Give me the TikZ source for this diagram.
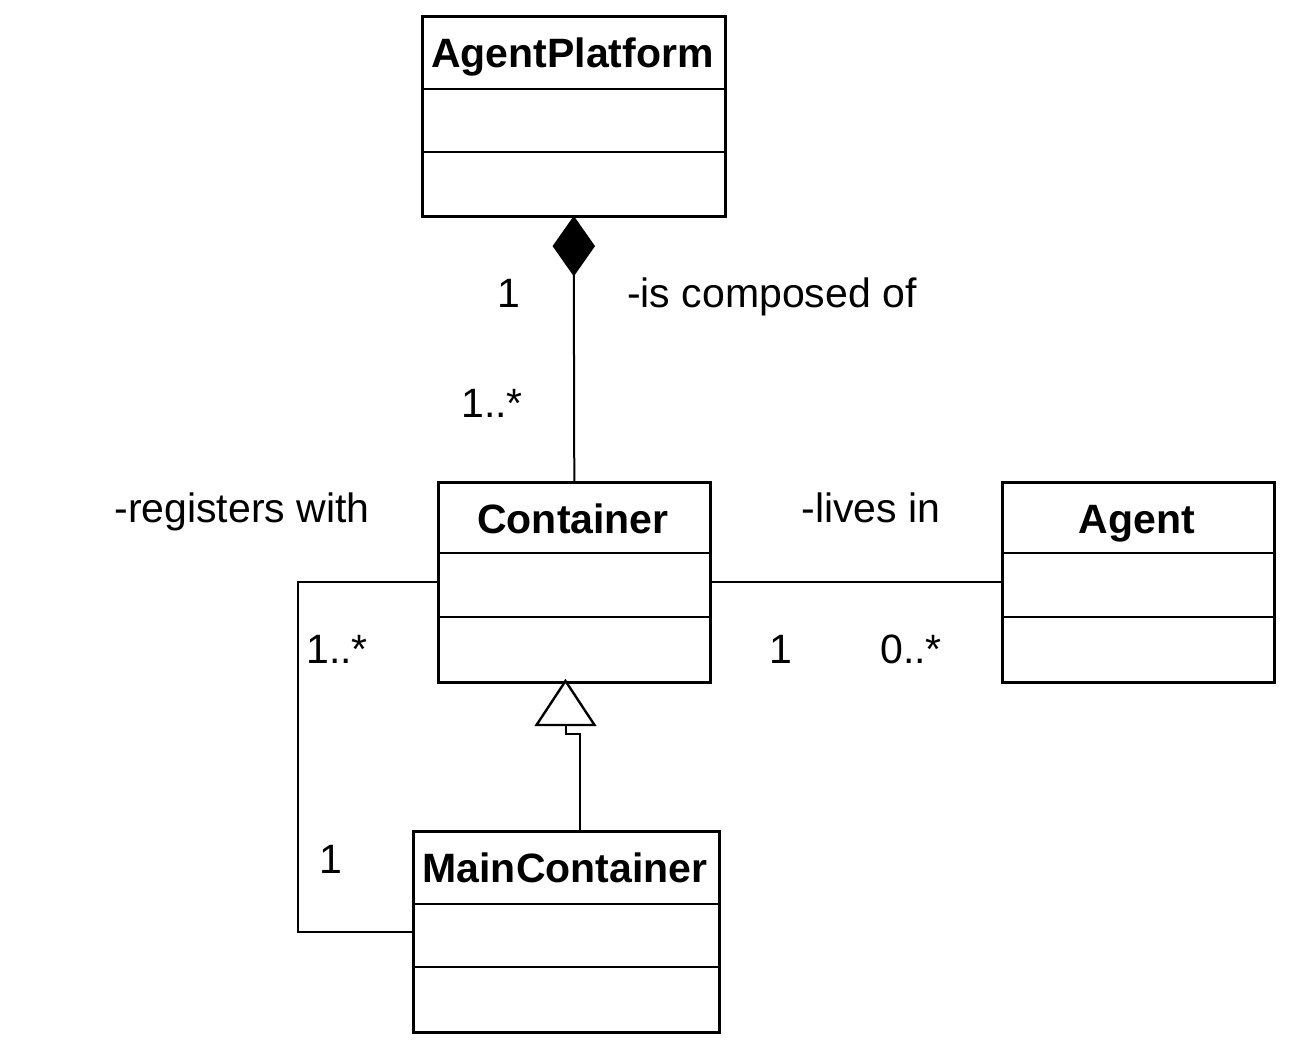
\documentclass[tikz,border=0pt]{standalone}
\usepackage{fontspec}
\setmainfont{Liberation Sans}
\usetikzlibrary{calc}
\tikzset{
  umlbox/.style={draw, line width=2.6pt, rectangle, anchor=north west, inner sep=0pt},
  divider/.style={line width=2.6pt},
  title/.style={font=\fontsize{41}{49}\selectfont\bfseries, anchor=base, inner sep=0pt},
  lbl/.style={font=\fontsize{41}{49}\selectfont, anchor=base, inner sep=0pt},
  conn/.style={line width=2pt},
}
\begin{document}
\begin{tikzpicture}[x=1pt,y=-1pt]
\useasboundingbox (0,0) rectangle (1294,1058);
% boxes
\node[umlbox, minimum width=303pt, minimum height=200pt] (ap) at (421,15) {};
\node[umlbox, minimum width=272pt, minimum height=200pt] (cont) at (437,481) {};
\node[umlbox, minimum width=272pt, minimum height=200pt] (agent) at (1001,481) {};
\node[umlbox, minimum width=306pt, minimum height=201pt] (mc) at (412,830) {};
% dividers
\draw[divider] (421,89) -- (724,89) (421,152) -- (724,152);
\draw[divider] (437,553) -- (709,553) (437,617) -- (709,617);
\draw[divider] (1001,553) -- (1273,553) (1001,617) -- (1273,617);
\draw[divider] (412,904) -- (718,904) (412,967) -- (718,967);
% titles
\node[title] (tap) at (572.5,67) {AgentPlatform};
\node[title] (tcont) at (573,533) {Container};
\node[title] (tagent) at (1137,533) {Agent};
\node[title] (tmc) at (565,882) {MainContainer};
% composition
\coordinate (dtop) at (ap.south);
\coordinate (dbot) at ($(dtop)+(0,57)$);
\draw[conn, fill=black] (dtop) -- ++(20,28.5) -- (dbot) -- ++(-20,-28.5) -- cycle;
\draw[conn] (dbot) -- (cont.north);
% lives in
\draw[conn] (cont.east) -- (agent.west);
% registers with
\draw[conn] (cont.west) -- ++(-139,0) |- (mc.west);
% generalization
\coordinate (tapex) at (565.5,681);
\coordinate (tbase) at (565.5,725);
\coordinate (mcjoin) at (580,830);
\draw[conn, line width=2.4pt, fill=white, line join=miter] (tapex) -- (594.5,725) -- (536.5,725) -- cycle;
\draw[conn] (tbase) -- (565.5,734) -- (580,734) -- (mcjoin);
% labels
\node[lbl] (l1) at (509,307) {1};
\node[lbl, anchor=base west] (lcomp) at (627,307) {-is composed of};
\node[lbl] (l2) at (492,417) {1..*};
\node[lbl] (lreg) at (242,522) {-registers with};
\node[lbl] (llive) at (871,522) {-lives in};
\node[lbl] (l3) at (337,663) {1..*};
\node[lbl] (l4) at (781,663) {1};
\node[lbl] (l5) at (911,663) {0..*};
\node[lbl] (l6) at (331,873) {1};
\end{tikzpicture}
\end{document}
